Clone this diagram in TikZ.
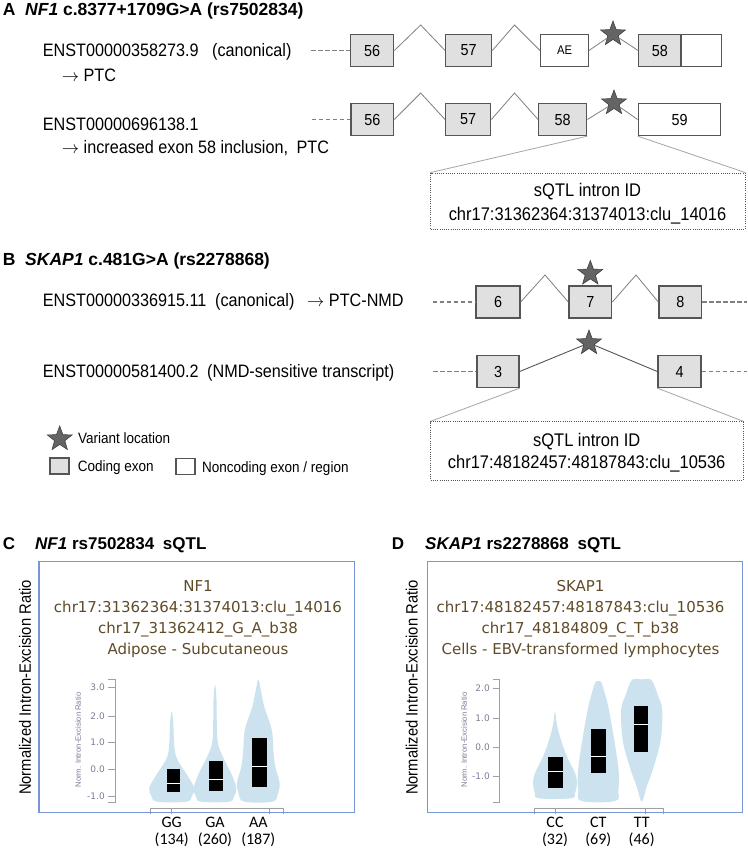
\documentclass[tikz,border=0pt]{standalone}
\usepackage{fontspec}
\setmainfont{Liberation Sans}
\newfontfamily\bodyf[FakeStretch=0.9]{Liberation Sans}
\newfontfamily\plotf{DejaVu Sans}
\newfontfamily\calf{Carlito}
\usetikzlibrary{shapes.geometric}
\definecolor{exonfill}{RGB}{224,224,224}
\definecolor{exonline}{RGB}{85,85,85}
\definecolor{intron}{RGB}{128,128,128}
\definecolor{zoomline}{RGB}{165,165,165}
\definecolor{starfill}{RGB}{100,100,100}
\definecolor{violinc}{RGB}{204,227,239}
\definecolor{framec}{RGB}{120,150,215}
\definecolor{plottext}{RGB}{95,75,40}
\definecolor{tickc}{RGB}{125,125,150}
\definecolor{axisc}{RGB}{160,160,160}
\newcommand{\arr}{\(\rightarrow\)}
\begin{document}
\begin{tikzpicture}[x=1pt,y=-1pt,
  exon/.style={draw=exonline, line width=1.3pt, fill=exonfill, inner sep=0pt, minimum height=32pt, font=\bodyf\fontsize{16}{16}\selectfont},
  ncexon/.style={exon, fill=white},
  intronline/.style={draw=intron, line width=0.8pt},
  darkintron/.style={draw=exonline, line width=0.9pt},
  dashline/.style={draw=intron, line width=1.5pt, dash pattern=on 4.5pt off 2.5pt},
  zoomln/.style={draw=zoomline, line width=0.8pt},
  qbox/.style={draw=exonline, dash pattern=on 1pt off 1.2pt, line width=0.8pt, inner sep=0pt, align=center, font=\bodyf\fontsize{18.3}{23}\selectfont},
  vstar/.style={star, star points=5, star point ratio=2.4, minimum size=26pt, inner sep=0pt, fill=starfill, draw=black!75, line width=0.6pt},
  lbl/.style={inner sep=0pt, anchor=base west, font=\bodyf\fontsize{18}{18}\selectfont},
  leg/.style={inner sep=0pt, anchor=base west, font=\bodyf\fontsize{15}{15}\selectfont},
  ttl/.style={inner sep=0pt, anchor=base west, font=\bfseries\fontsize{17.5}{17.5}\selectfont},
  ttlb/.style={inner sep=0pt, anchor=base west, font=\bfseries\fontsize{17}{17}\selectfont},
  ptxt/.style={inner sep=0pt, anchor=base, text=plottext, font=\plotf\fontsize{15}{15}\selectfont},
  ylab/.style={inner sep=0pt, rotate=90, font=\bodyf\fontsize{16.4}{16.4}\selectfont},
  smallylab/.style={inner sep=0pt, rotate=90, text=tickc, font=\fontsize{7.7}{7.7}\selectfont},
  tick/.style={inner sep=0pt, anchor=east, text=tickc, font=\plotf\fontsize{9}{9}\selectfont},
  gtxt/.style={inner sep=0pt, anchor=base, font=\calf\fontsize{16}{16}\selectfont},
  violin/.style={fill=violinc},
  pframe/.style={draw=framec, line width=1.2pt, inner sep=0pt},
  axisln/.style={draw=axisc, line width=0.8pt}
]
\useasboundingbox (0,0) rectangle (747,851);
\fill[white] (0,0) rectangle (747,851);

% ================= Panel A =================
\node[ttl] (tA) at (2.7,15.5) {A};
\node[ttl] (tA2) at (25,15.5) {\textit{NF1} c.8377+1709G>A (rs7502834)};

\node[lbl] (a1t) at (42.7,57) {ENST00000358273.9};
\node[lbl] (a1c) at (212,57) {(canonical)};
\node[lbl] (a1p) at (61.7,81.5) {\arr\ PTC};
\node[lbl] (a2t) at (42.7,130) {ENST00000696138.1};
\node[lbl] (a2p) at (61.7,153.3) {\arr\ increased exon 58 inclusion,\hspace{4pt} PTC};

% row A1
\node[exon, minimum width=43pt] (a56) at (372.2,50.5) {56};
\node[exon, minimum width=46pt] (a57) at (468.7,50.5) {57};
\node[ncexon, minimum width=47.6pt, font=\bodyf\fontsize{12.5}{12.5}\selectfont] (aAE) at (564.5,50.5) {AE};
\node[exon, minimum width=42.3pt] (a58) at (659.9,50.5) {58};
\node[ncexon, minimum width=40.7pt] (a58n) at (701.35,50.5) {};
\coordinate (dA1) at (311,50.5);
\coordinate (pA1) at (420.7,25);
\coordinate (pA2) at (514.5,25);
\node[vstar] (sA1) at (613,34) {};
\draw[dashline] (dA1) -- (a56.west);
\draw[intronline] (a56.east) -- (pA1) -- (a57.west);
\draw[intronline] (a57.east) -- (pA2) -- (aAE.west);
\draw[intronline] (aAE.east) -- (sA1);
\draw[intronline] (sA1) -- (a58.west);

% row A2
\node[exon, minimum width=42.7pt] (b56) at (372.3,119.5) {56};
\node[exon, minimum width=45pt] (b57) at (468.2,119.5) {57};
\node[exon, minimum width=48pt] (b58) at (562.7,119.5) {58};
\node[ncexon, minimum width=82.4pt] (b59) at (679.5,119.5) {59};
\coordinate (dA2) at (311.7,119.5);
\coordinate (pB1) at (420.7,93);
\coordinate (pB2) at (514.5,93);
\node[vstar] (sA2) at (614,103) {};
\draw[dashline] (dA2) -- (b56.west);
\draw[intronline] (b56.east) -- (pB1) -- (b57.west);
\draw[intronline] (b57.east) -- (pB2) -- (b58.west);
\draw[intronline] (b58.east) -- (sA2);
\draw[intronline] (sA2) -- (b59.west);

% sQTL box A
\node[qbox, minimum width=314.3pt, minimum height=56pt] (qA) at (587.9,201) {};
\node[inner sep=0pt, anchor=base, font=\bodyf\fontsize{18.3}{18.3}\selectfont] (qA1) at (587.5,196) {sQTL intron ID};
\node[inner sep=0pt, anchor=base, font=\bodyf\fontsize{18.3}{18.3}\selectfont] (qA2) at (587.5,220) {chr17:31362364:31374013:clu\_14016};
\draw[zoomln] (b58.south east) -- (qA.north west);
\draw[zoomln] (b59.south west) -- (qA.north east);

% ================= Panel B =================
\node[ttl] (tB) at (2.7,265) {B};
\node[ttl] (tB2) at (25,265) {\textit{SKAP1} c.481G>A (rs2278868)};

\node[lbl] (c1t) at (42.7,306.5) {ENST00000336915.11};
\node[lbl] (c1c) at (215,306.5) {(canonical)};
\node[lbl] (c1p) at (307,306.5) {\arr\ PTC-NMD};
\node[lbl] (d1t) at (42.7,377.5) {ENST00000581400.2};
\node[lbl] (d1c) at (207,377.5) {(NMD-sensitive transcript)};

% row B1
\node[exon, minimum width=44pt] (c6) at (498,302) {6};
\node[exon, minimum width=42.7pt] (c7) at (590.3,302) {7};
\node[exon, minimum width=42.7pt] (c8) at (680.3,302) {8};
\coordinate (dB1) at (432.7,302);
\coordinate (dB1r) at (747,302);
\coordinate (pC1) at (545,275);
\coordinate (pC2) at (636,275);
\node[vstar] (sB1) at (590.3,273.5) {};
\draw[dashline] (dB1) -- (c6.west);
\draw[dashline] (c8.east) -- (dB1r);
\draw[intronline] (c6.east) -- (pC1) -- (c7.west);
\draw[intronline] (c7.east) -- (pC2) -- (c8.west);

% row B2
\node[exon, minimum width=42pt] (d3) at (498,371.5) {3};
\node[exon, minimum width=43pt] (d4) at (679.5,371.5) {4};
\coordinate (dB2) at (433,371.5);
\coordinate (dB2r) at (747,371.5);
\node[vstar] (sB2) at (589,343) {};
\draw[dashline] (dB2) -- (d3.west);
\draw[dashline] (d4.east) -- (dB2r);
\draw[darkintron] (d3.east) -- (sB2);
\draw[darkintron] (sB2) -- (d4.west);

% sQTL box B
\node[qbox, minimum width=312.3pt, minimum height=58.3pt] (qB) at (586.9,450.9) {};
\node[inner sep=0pt, anchor=base, font=\bodyf\fontsize{18.3}{18.3}\selectfont] (qB1) at (586.7,446.5) {sQTL intron ID};
\node[inner sep=0pt, anchor=base, font=\bodyf\fontsize{18.3}{18.3}\selectfont] (qB2) at (586.7,468.5) {chr17:48182457:48187843:clu\_10536};
\draw[zoomln] (d3.south east) -- (qB.north west);
\draw[zoomln] (d4.south west) -- (qB.north east);

% legend
\node[vstar] (lgs) at (59.7,439) {};
\node[leg] (lgst) at (78,443) {Variant location};
\node[exon, minimum width=19pt, minimum height=16pt, line width=1.1pt] (lgc) at (59.5,466) {};
\node[leg] (lgct) at (77.7,471.5) {Coding exon};
\node[ncexon, minimum width=19pt, minimum height=16pt, line width=1.1pt] (lgn) at (185.5,466.5) {};
\node[leg] (lgnt) at (202,472) {Noncoding exon / region};

% ================= Panel C =================
\node[ttlb] (tC) at (2.7,549.3) {C};
\node[ttlb] (tC2) at (35,549.3) {\textit{NF1} rs7502834\hspace{4pt} sQTL};
\node[ylab] (ylC) at (25,687.5) {Normalized Intron-Excision Ratio};

\node[ptxt] (ctx1) at (198,591.7) {NF1};
\node[ptxt] (ctx2) at (198,612.6) {chr17:31362364:31374013:clu\_14016};
\node[ptxt] (ctx3) at (198,633.5) {chr17\_31362412\_G\_A\_b38};
\node[ptxt] (ctx4) at (198,654.4) {Adipose - Subcutaneous};

% axis C
\draw[axisln] (108,679) -- (115,679) -- (115,802.7) -- (108,802.7);
\foreach \yy/\tl in {687.7/3.0, 716/2.0, 742.7/1.0, 769.3/0.0, 796.7/-1.0} {
  \draw[axisln] (108,\yy) -- (115,\yy);
  \node[tick] at (105,\yy) {\tl};
}
\node[smallylab] (sylC) at (78,740) {Norm. Intron-Excision Ratio};

% violins C
\fill[violin] plot[smooth cycle, tension=0.6] coordinates {(171.7,711.7) (173.2,722) (174.2,745) (176.2,757) (181.2,766) (187.7,776) (194.2,788) (191.7,796.5) (186.2,801.7) (157.2,801.7) (151.7,796.5) (149.2,788) (155.7,776) (162.2,766) (167.2,757) (169.2,745) (170.2,722)};
\fill[violin] plot[smooth cycle, tension=0.6] coordinates {(215,685) (216.5,700) (217.5,740) (223,757) (231,773) (236.3,788) (234,796.5) (229,801.7) (201,801.7) (196,796.5) (193.7,788) (199,773) (207,757) (212.5,740) (213.5,700)};
\fill[violin] plot[smooth cycle, tension=0.6] coordinates {(258.3,679.3) (260.8,690) (264.3,706.7) (271.8,730) (273.3,750) (275.3,766.7) (279.6,783) (277.8,794) (272.3,801.7) (244.3,801.7) (238.8,794) (237,783) (241.3,766.7) (243.3,750) (244.8,730) (252.3,706.7) (255.8,690)};
\fill[black] (166.7,769) rectangle (180,791.7);
\draw[white, line width=1pt] (166.7,783.3) -- (180,783.3);
\fill[black] (209.3,760.7) rectangle (223.3,790.7);
\draw[white, line width=1pt] (209.3,779) -- (223.3,779);
\fill[black] (251.7,738.3) rectangle (266.7,786.7);
\draw[white, line width=1pt] (251.7,766) -- (266.7,766);

\draw[axisln] (150,814) -- (150,808) -- (283.3,808) -- (283.3,814);
\draw[axisln] (171.7,808) -- (171.7,814);
\draw[axisln] (269.3,808) -- (269.3,814);
\node[pframe, minimum width=315.3pt, minimum height=251pt] (fC) at (196.65,687.2) {};

\node[gtxt] (gC1) at (171.7,827.3) {GG};
\node[gtxt] (gC2) at (215,827.3) {GA};
\node[gtxt] (gC3) at (258.3,827.3) {AA};
\node[gtxt] (nC1) at (171.7,844) {(134)};
\node[gtxt] (nC2) at (215,844) {(260)};
\node[gtxt] (nC3) at (258.3,844) {(187)};

% ================= Panel D =================
\node[ttlb] (tD) at (391.7,549.3) {D};
\node[ttlb] (tD2) at (425,549.3) {\textit{SKAP1} rs2278868\hspace{4pt} sQTL};
\node[ylab] (ylD) at (411.7,687.5) {Normalized Intron-Excision Ratio};

\node[ptxt] (dtx1) at (580.5,591.7) {SKAP1};
\node[ptxt] (dtx2) at (580.5,612.6) {chr17:48182457:48187843:clu\_10536};
\node[ptxt] (dtx3) at (580.5,633.5) {chr17\_48184809\_C\_T\_b38};
\node[ptxt] (dtx4) at (580.5,654.4) {Cells - EBV-transformed lymphocytes};

\draw[axisln] (493,679.3) -- (499.3,679.3) -- (499.3,802.7) -- (493,802.7);
\foreach \yy/\tl in {688.3/2.0, 718.3/1.0, 747.3/0.0, 776.7/-1.0} {
  \draw[axisln] (493,\yy) -- (499.3,\yy);
  \node[tick] at (490,\yy) {\tl};
}
\node[smallylab] (sylD) at (464,740) {Norm. Intron-Excision Ratio};

\fill[violin] plot[smooth cycle, tension=0.6] coordinates {(555,711.7) (557,725) (561,740) (567,756.7) (575,773) (577,783.3) (575,793) (571,798.3) (539,798.3) (535,793) (533,783.3) (535,773) (543,756.7) (549,740) (553,725)};
\fill[violin] plot[smooth cycle, tension=0.6] coordinates {(598.3,681.2) (601.3,682.5) (605.3,695) (608.3,706.7) (614.3,740) (618.8,773) (618.3,790) (615.3,801) (581.3,801) (578.3,790) (577.8,773) (582.3,740) (588.3,706.7) (591.3,695) (595.3,682.5)};
\fill[violin] plot[smooth cycle, tension=0.6] coordinates {(641.7,679.5) (651.4,680) (657.7,695) (662.2,710) (660.7,740) (653.7,766.7) (646.7,786.7) (641.7,801.7) (636.7,786.7) (629.7,766.7) (622.7,740) (621.2,710) (625.7,695) (632,680)};
\fill[black] (547.7,757.3) rectangle (562.7,788.3);
\draw[white, line width=1pt] (547.7,771) -- (562.7,771);
\fill[black] (591,729) rectangle (605.7,773.3);
\draw[white, line width=1pt] (591,756) -- (605.7,756);
\fill[black] (634.3,705.7) rectangle (648.3,751.7);
\draw[white, line width=1pt] (634.3,724.3) -- (648.3,724.3);

\draw[axisln] (534,814) -- (534,808) -- (663.3,808) -- (663.3,814);
\draw[axisln] (555,808) -- (555,814);
\draw[axisln] (645,808) -- (645,814);
\node[pframe, minimum width=315.4pt, minimum height=251pt] (fD) at (585,687.2) {};

\node[gtxt] (gD1) at (555,827.3) {CC};
\node[gtxt] (gD2) at (598.3,827.3) {CT};
\node[gtxt] (gD3) at (641.7,827.3) {TT};
\node[gtxt] (nD1) at (555,844) {(32)};
\node[gtxt] (nD2) at (598.3,844) {(69)};
\node[gtxt] (nD3) at (641.7,844) {(46)};
\end{tikzpicture}
\end{document}
